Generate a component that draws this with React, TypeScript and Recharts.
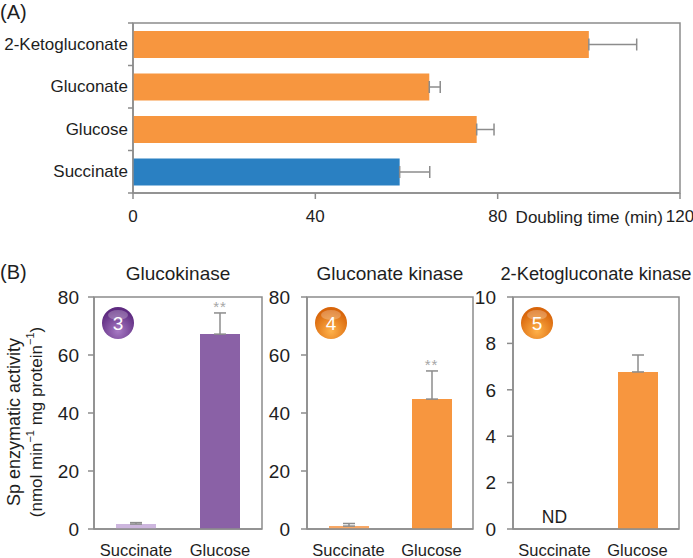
import React from "react";
import {
  BarChart,
  Bar,
  XAxis,
  YAxis,
  ErrorBar,
  Cell,
  Label,
  ReferenceArea,
  ReferenceDot
} from "recharts";

// (A) growth on each carbon source
const media = ["2-Ketogluconate", "Gluconate", "Glucose", "Succinate"];
const doubling = [100, 65, 75.4, 58.5];
const doublingSd = [10.5, 2.4, 3.8, 6.6];
const doublingTicks = [0, 40, 80, 120];

// (B) specific activities, cells grown on succinate / glucose
const substrates = ["Succinate", "Glucose"];
const glucokinase = [1.7, 67.2];
const glucokinaseSd = [0.5, 7.3];
const glucokinaseMarks = ["", "**"];
const gluconateKinase = [1.0, 44.8];
const gluconateKinaseSd = [0.9, 9.7];
const gluconateKinaseMarks = ["", "**"];
const ketoKinase = [0, 6.77];
const ketoKinaseSd = [0, 0.73];
const ketoKinaseMarks = ["ND", ""];
const activityTicks = [0, 20, 40, 60, 80];
const ketoTicks = [0, 2, 4, 6, 8, 10];

const SANS = "'Liberation Sans', Arial, sans-serif";
const INK = "#1e1e1e";
const AXIS = "#8c8c8c";
const ORANGE = "#F7963F";
const BLUE = "#2A80C2";
const PURPLE = "#8A61A6";
const LAVENDER = "#CDB6DE";

const growth = media.map((m, i) => ({
  medium: m,
  time: doubling[i],
  err: [0, doublingSd[i]]
}));

const line = { stroke: AXIS, strokeWidth: 1.5 };
const TICK = 5;

// panel A frame
const A_H = 230;
const A_MARGIN = { top: 23, right: 13, bottom: 7, left: 0 };
const A_XAXIS_H = 30;
const A_PLOT_H = A_H - A_MARGIN.top - A_MARGIN.bottom - A_XAXIS_H;

// category label with its tick marks on the band edges, not the centre
function MediaTick(p: any) {
  const half =
    p.payload && p.payload.offset ? p.payload.offset : A_PLOT_H / media.length / 2;
  const x = Number(p.x);
  const y = Number(p.y);
  const last = p.index === p.visibleTicksCount - 1;
  return (
    <g>
      <line x1={x} x2={x + TICK} y1={y - half} y2={y - half} {...line} />
      {last && <line x1={x} x2={x + TICK} y1={y + half} y2={y + half} {...line} />}
      <text
        x={x}
        y={y}
        textAnchor="end"
        dominantBaseline="central"
        fontSize={17}
        fontFamily={SANS}
        fill={INK}
      >
        {p.payload.value}
      </text>
    </g>
  );
}

function GrowthChart() {
  return (
    <BarChart
      layout="vertical"
      width={693}
      height={A_H}
      data={growth}
      margin={A_MARGIN}
    >
      <XAxis
        type="number"
        domain={[0, 120]}
        ticks={doublingTicks}
        interval={0}
        height={A_XAXIS_H}
        tickSize={6}
        tickMargin={11}
        axisLine={line}
        tickLine={line}
        tick={{ fill: INK, fontSize: 17, fontFamily: SANS }}
        label={{
          content: (p: any) => {
            const vb = p.viewBox || {};
            return (
              <text
                x={vb.x + vb.width - 17}
                y={vb.y + 30}
                textAnchor="end"
                fontSize={17}
                fontFamily={SANS}
                fill={INK}
              >
                Doubling time (min)
              </text>
            );
          }
        }}
      />
      <YAxis
        type="category"
        dataKey="medium"
        width={133}
        interval={0}
        axisLine={line}
        tickLine={false}
        tickSize={TICK}
        tickMargin={0}
        tick={<MediaTick />}
      />
      <ReferenceArea x1={0} x2={120} fill="none" stroke={AXIS} strokeWidth={1.5} />
      <Bar dataKey="time" barSize={27} isAnimationActive={false}>
        {growth.map((g, i) => (
          <Cell key={g.medium} fill={i === media.length - 1 ? BLUE : ORANGE} />
        ))}
        <ErrorBar
          dataKey="err"
          direction="x"
          width={6}
          stroke={AXIS}
          strokeWidth={1.5}
        />
      </Bar>
    </BarChart>
  );
}

function Badge({ cx, cy, n, id, dark, light }: any) {
  return (
    <g>
      <defs>
        <radialGradient id={id} cx="50%" cy="75%" r="65%">
          <stop offset="0%" stopColor={light} />
          <stop offset="100%" stopColor={dark} />
        </radialGradient>
      </defs>
      <circle cx={cx} cy={cy} r={16} fill={`url(#${id})`} />
      <ellipse cx={cx} cy={cy - 8} rx={10} ry={5} fill="#fff" opacity={0.25} />
      <text
        x={cx}
        y={cy + 7}
        textAnchor="middle"
        fontSize={19}
        fontFamily={SANS}
        fill="#fff"
      >
        {n}
      </text>
    </g>
  );
}

function ActivityLabel(p: any) {
  const vb = p.viewBox || {};
  const cy = vb.y + vb.height / 2 + 9;
  const x1 = vb.x + 14;
  const x2 = vb.x + 36;
  return (
    <g fontFamily={SANS} fill={INK}>
      <text
        x={x1}
        y={cy}
        transform={`rotate(-90 ${x1} ${cy})`}
        textAnchor="middle"
        dominantBaseline="central"
        fontSize={18}
      >
        Sp enzymatic activity
      </text>
      <text
        x={x2}
        y={cy}
        transform={`rotate(-90 ${x2} ${cy})`}
        textAnchor="middle"
        dominantBaseline="central"
        fontSize={17}
      >
        (nmol min
        <tspan dy={-6} fontSize={11}>−1</tspan>
        <tspan dy={6}> mg protein</tspan>
        <tspan dy={-6} fontSize={11}>−1</tspan>
        <tspan dy={6}>)</tspan>
      </text>
    </g>
  );
}

function KinaseChart({
  left,
  width,
  axisWidth,
  right,
  tickGap,
  title,
  titleSize,
  values,
  sds,
  marks,
  ticks,
  colors,
  badge,
  badgeDark,
  badgeLight,
  showLabel
}: any) {
  const rows = substrates.map((s, i) => ({
    substrate: s,
    activity: values[i],
    err: sds[i] ? [0, sds[i]] : null,
    mark: marks[i]
  }));
  const top = ticks[ticks.length - 1];

  return (
    <div style={{ position: "absolute", left, top: 250 }}>
      <BarChart
        width={width}
        height={308}
        data={rows}
        margin={{ top: 47, right, bottom: 0, left: 0 }}
      >
        <XAxis
          dataKey="substrate"
          height={29}
          interval={0}
          tickLine={false}
          axisLine={line}
          tickSize={6}
          tickMargin={9}
          tick={{ fill: INK, fontSize: 16.5, fontFamily: SANS }}
        />
        <YAxis
          width={axisWidth}
          domain={[0, top]}
          ticks={ticks}
          interval={0}
          tickSize={6}
          tickMargin={tickGap}
          axisLine={line}
          tickLine={line}
          tick={{ fill: INK, fontSize: 19, fontFamily: SANS }}
          label={showLabel ? { content: ActivityLabel } : undefined}
        />
        <ReferenceArea y1={0} y2={top} fill="none" stroke={AXIS} strokeWidth={1.5}>
          <Label
            position="top"
            offset={17}
            value={title}
            fontSize={titleSize || 19}
            fontFamily={SANS}
            fill={INK}
          />
          <Label
            content={(p: any) => {
              const vb = p.viewBox || {};
              return (
                <Badge
                  cx={vb.x + 24}
                  cy={vb.y + 26}
                  n={badge}
                  id={`badge${badge}`}
                  dark={badgeDark}
                  light={badgeLight}
                />
              );
            }}
          />
        </ReferenceArea>
        <Bar dataKey="activity" barSize={40} isAnimationActive={false}>
          {rows.map((r, i) => (
            <Cell key={r.substrate} fill={colors[i]} />
          ))}
          <ErrorBar
            dataKey="err"
            direction="y"
            width={6}
            stroke={AXIS}
            strokeWidth={1.5}
          />
        </Bar>
        {rows
          .filter((r) => r.mark)
          .map((r) =>
            r.mark === "ND" ? (
              <ReferenceDot
                key={r.substrate}
                x={r.substrate}
                y={r.activity}
                r={0}
                stroke="none"
                label={{
                  value: r.mark,
                  position: "top",
                  offset: 6,
                  fontSize: 17.5,
                  fontFamily: SANS,
                  fill: INK
                }}
              />
            ) : (
              <ReferenceDot
                key={r.substrate}
                x={r.substrate}
                y={r.activity + (r.err ? r.err[1] : 0)}
                r={0}
                stroke="none"
                label={{
                  value: r.mark,
                  position: "top",
                  offset: 1,
                  fontSize: 15,
                  fontFamily: SANS,
                  fill: "#a6a6a6",
                  letterSpacing: 1
                }}
              />
            )
          )}
      </BarChart>
    </div>
  );
}

export default function App() {
  return (
    <div
      style={{
        position: "absolute",
        left: 0,
        top: 0,
        width: 693,
        height: 558,
        background: "#fff",
        overflow: "hidden"
      }}
    >
      <div style={{ position: "absolute", left: 0, top: 0 }}>
        <GrowthChart />
      </div>
      <div
        style={{
          position: "absolute",
          left: 0,
          top: 0,
          fontFamily: SANS,
          fontSize: 20,
          color: INK,
          lineHeight: "24px"
        }}
      >
        (A)
      </div>
      <div
        style={{
          position: "absolute",
          left: 0,
          top: 260,
          fontFamily: SANS,
          fontSize: 20,
          color: INK,
          lineHeight: "24px"
        }}
      >
        (B)
      </div>
      <KinaseChart
        left={0}
        width={270}
        axisWidth={94}
        right={8}
        tickGap={9}
        title="Glucokinase"
        values={glucokinase}
        sds={glucokinaseSd}
        marks={glucokinaseMarks}
        ticks={activityTicks}
        colors={[LAVENDER, PURPLE]}
        badge="3"
        badgeDark="#5e2a80"
        badgeLight="#a77bc4"
        showLabel
      />
      <KinaseChart
        left={262}
        width={219}
        axisWidth={45}
        right={8}
        tickGap={11}
        title="Gluconate kinase"
        values={gluconateKinase}
        sds={gluconateKinaseSd}
        marks={gluconateKinaseMarks}
        ticks={activityTicks}
        colors={["#F8A865", ORANGE]}
        badge="4"
        badgeDark="#d8650a"
        badgeLight="#ffb24a"
      />
      <KinaseChart
        left={473}
        width={220}
        axisWidth={40}
        right={14}
        tickGap={11}
        title="2-Ketogluconate kinase"
        titleSize={18.3}
        values={ketoKinase}
        sds={ketoKinaseSd}
        marks={ketoKinaseMarks}
        ticks={ketoTicks}
        colors={[ORANGE, ORANGE]}
        badge="5"
        badgeDark="#d8650a"
        badgeLight="#ffb24a"
      />
    </div>
  );
}
